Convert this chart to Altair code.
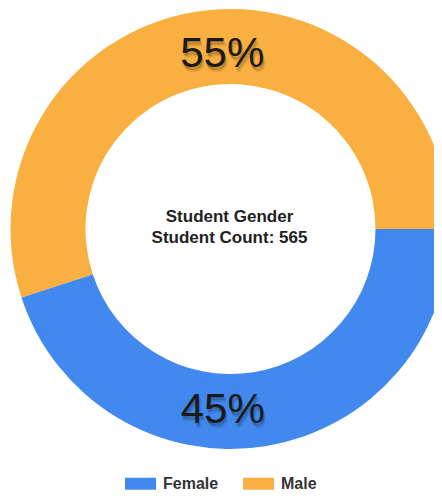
import math
import altair as alt
import pandas as pd

genders = ["Female", "Male"]
counts = [254, 311]
colors = ["#4189EE", "#FAB040"]
center_lines = ["Student Gender", "Student Count: 565"]

total = sum(counts)
df = pd.DataFrame({
    "gender": genders,
    "count": counts,
    "order": list(range(len(genders))),
})
df["label"] = [f"{round(c / total * 100)}%" for c in counts]

CX, CY = 222.5, 221
theta_scale = alt.Scale(range=[math.pi / 2, math.pi / 2 + 2 * math.pi])

base = alt.Chart(df).encode(
    theta=alt.Theta("count:Q", stack=True, scale=theta_scale),
    order=alt.Order("order:Q"),
    x=alt.value(CX),
    y=alt.value(CY),
)

arcs = base.mark_arc(outerRadius=220, innerRadius=145, stroke=None).encode(
    color=alt.Color(
        "gender:N",
        scale=alt.Scale(domain=genders, range=colors),
        legend=alt.Legend(
            orient="none",
            legendX=117,
            legendY=460,
            direction="horizontal",
            title=None,
            symbolType="M-1,-0.387h2v0.774h-2z",
            symbolSize=961,
            symbolStrokeWidth=0,
            symbolOpacity=1,
            labelFont="Liberation Sans",
            labelFontSize=16,
            labelFontWeight="bold",
            labelColor="#333333",
            labelOffset=7,
            columnPadding=24,
            padding=0,
        ),
    )
)

TOFF = 9 * math.pi / 180
common = dict(radius=178, thetaOffset=TOFF, font="Liberation Sans", fontSize=42,
              baseline="middle", align="center")

shadow2 = base.mark_text(color="#000000", opacity=0.10, dx=-6, dy=8, **common).encode(text="label:N")
shadow1 = base.mark_text(color="#000000", opacity=0.18, dx=-7, dy=6, **common).encode(text="label:N")
labels = base.mark_text(color="#1a1a1a", dx=-8, dy=3, **common).encode(text="label:N")

center = alt.Chart(pd.DataFrame({"t": [0]})).mark_text(
    text=center_lines, font="Liberation Sans", fontSize=17, fontWeight="bold",
    color="#222222", lineHeight=21, align="center", baseline="middle",
).encode(x=alt.value(CX - 1), y=alt.value(CY - 12))

chart = alt.layer(arcs, shadow2, shadow1, labels, center).properties(
    width=426,
    height=484,
    autosize=alt.AutoSizeParams(type="none"),
    padding=0,
).configure_view(stroke=None)

chart.save("out.html", embed_options={"renderer": "svg", "actions": False})
